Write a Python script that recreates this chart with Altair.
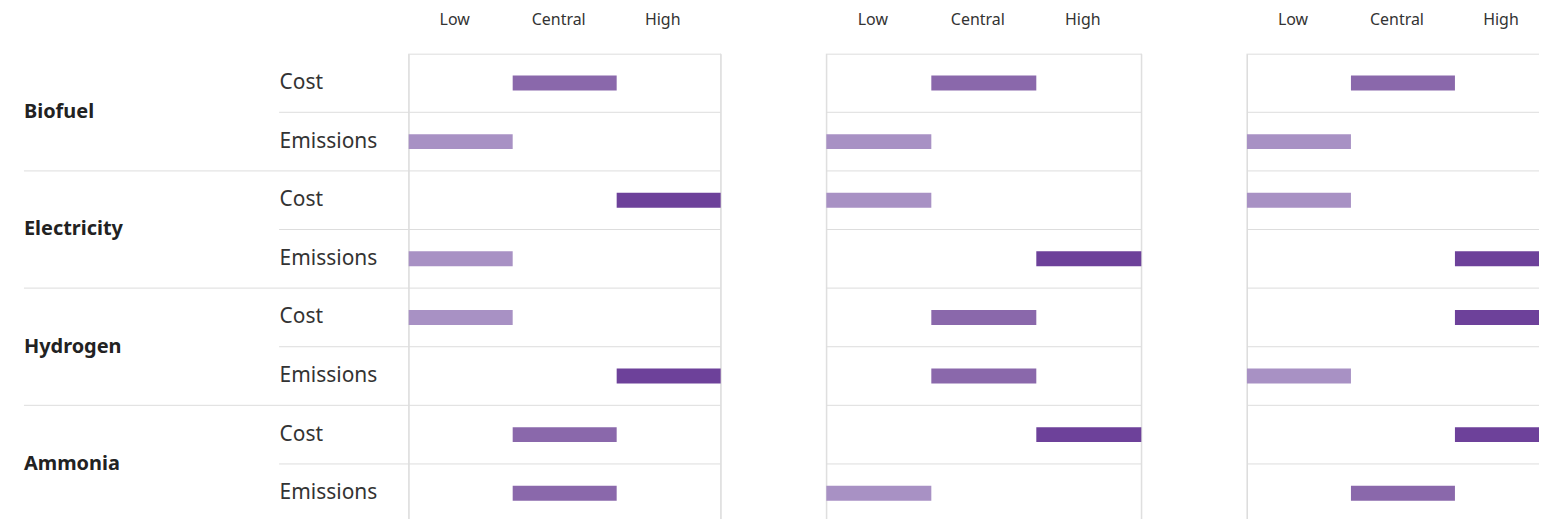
import altair as alt
import pandas as pd

panels = ["Panel A", "Panel B", "Panel C"]
fuels = ["Biofuel", "Electricity", "Hydrogen", "Ammonia"]
metrics = ["Cost", "Emissions"]
levels = ["Low", "Central", "High"]
level_colors = ["#a891c4", "#8a68ab", "#6d419a"]

# level per (fuel, metric) in order: Biofuel Cost, Biofuel Emissions, Electricity Cost, ...
panel_a = ["Central", "Low", "High", "Low", "Low", "High", "Central", "Central"]
panel_b = ["Central", "Low", "Low", "High", "Central", "Central", "High", "Low"]
panel_c = ["Central", "Low", "Low", "High", "High", "Low", "High", "Central"]

row_keys = [f"{f}|{m}" for f in fuels for m in metrics]

records = []
for p, vals in zip(panels, [panel_a, panel_b, panel_c]):
    for key, lev in zip(row_keys, vals):
        f, m = key.split("|")
        records.append({"panel": p, "fuel": f, "metric": m, "row": key, "level": lev})
df = pd.DataFrame(records)

GRID = "#dddddd"
FONT = "Noto Sans"
TEXT = "#333333"

panel_widths = [313, 316, 313]
PLOT_H = 470.4

y_scale = alt.Scale(domain=row_keys, paddingInner=0, paddingOuter=0)
x_scale = alt.Scale(domain=levels, paddingInner=0, paddingOuter=0)
x_axis = alt.Axis(orient="top", title=None, ticks=False, domain=False, grid=False,
                  labelAngle=0, labelPadding=26, labelFontSize=16, labelColor=TEXT,
                  labelFont=FONT, labelOffset=-6)
y_axis_first = alt.Axis(title=None, ticks=False, domain=False, grid=False, labelAlign="left",
                        labelPadding=130, labelFontSize=21, labelColor=TEXT, labelFont=FONT,
                        labelBaseline="middle", labelExpr="split(datum.label, '|')[1]")


def make_panel(idx):
    name = panels[idx]
    first = idx == 0
    y_axis = y_axis_first if first else None
    base = alt.Chart(df).transform_filter(f"datum.panel == '{name}'")

    def yb(pos=None):
        if pos is None:
            return alt.Y("row:N", scale=y_scale, axis=y_axis, sort=row_keys)
        return alt.Y("row:N", scale=y_scale, axis=y_axis, sort=row_keys, bandPosition=pos)

    layers = []
    # horizontal separators at the bottom of every row
    layers.append(base.mark_rule(color=GRID, strokeWidth=1).encode(y=yb(1)))
    if first:
        layers.append(base.transform_filter("datum.metric == 'Cost'").mark_rule(
            color=GRID, strokeWidth=1).encode(y=yb(1), x=alt.value(-130), x2=alt.value(0)))
        layers.append(base.transform_filter("datum.metric == 'Emissions'").mark_rule(
            color=GRID, strokeWidth=1).encode(y=yb(1), x=alt.value(-386), x2=alt.value(0)))
    # vertical panel edges
    edges = base.transform_filter(f"datum.row == '{row_keys[0]}'").transform_calculate(
        edge_lo="'Low'", edge_hi="'High'")
    layers.append(edges.mark_rule(color=GRID, strokeWidth=1).encode(
        x=alt.X("edge_lo:N", bandPosition=0, scale=x_scale, axis=x_axis)))
    layers.append(edges.mark_rule(color=GRID, strokeWidth=1).encode(
        x=alt.X("edge_hi:N", bandPosition=1, scale=x_scale, axis=x_axis)))
    # bars
    layers.append(base.mark_bar(height=15).encode(
        x=alt.X("level:N", scale=x_scale, axis=x_axis),
        y=yb(),
        color=alt.Color("level:N", scale=alt.Scale(domain=levels, range=level_colors),
                        legend=None),
    ))
    if first:
        layers.append(base.transform_filter("datum.metric == 'Cost'").mark_text(
            align="left", baseline="middle", fontSize=20, fontWeight="bold", font=FONT,
            color="#222222").encode(y=yb(1), x=alt.value(-386), text="fuel:N"))
    return alt.layer(*layers).properties(width=panel_widths[idx], height=PLOT_H)


# the right-hand panel runs past the page edge, as in the original
chart = alt.hconcat(*[make_panel(i) for i in range(3)], spacing=104).resolve_scale(
    x="independent", y="independent"
).configure_view(strokeWidth=0).configure(
    padding={"left": 15, "top": 2, "right": -21, "bottom": 0}, background="white"
)

chart.save("out.html", embed_options={"renderer": "svg", "actions": False})
